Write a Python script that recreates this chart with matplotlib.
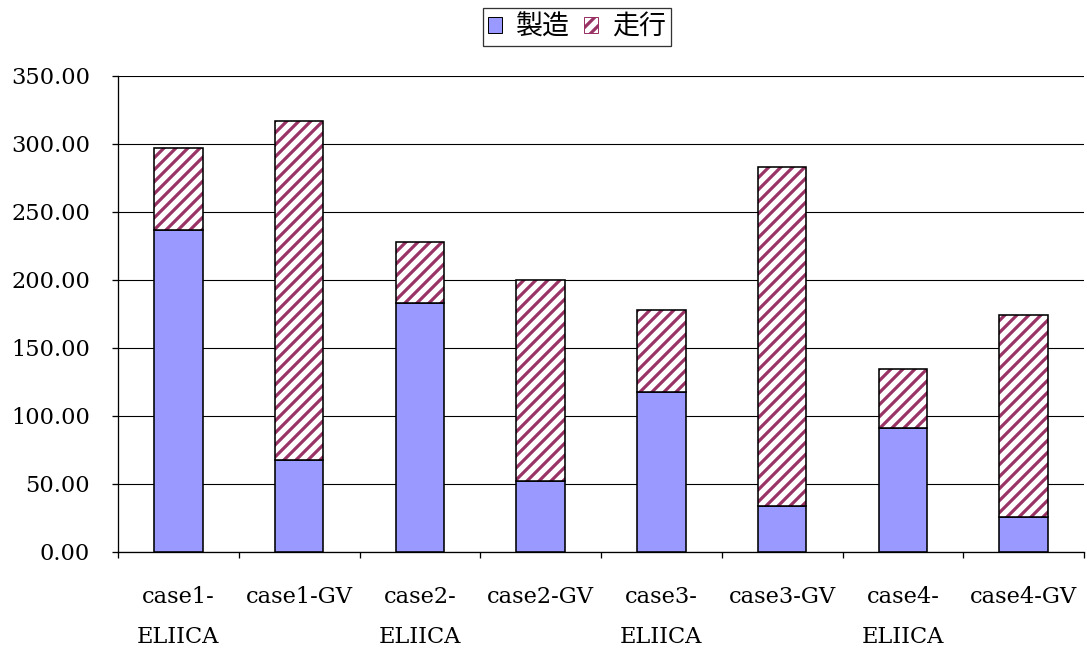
import numpy as np
import matplotlib.pyplot as plt
from matplotlib.patches import Patch

plt.rcParams['hatch.linewidth'] = 3.2

categories = ["case1-\nELIICA", "case1-GV", "case2-\nELIICA", "case2-GV",
              "case3-\nELIICA", "case3-GV", "case4-\nELIICA", "case4-GV"]
manufacture = [236.8, 67.6, 183.0, 52.2, 117.6, 33.8, 91.2, 25.7]
running = [60.2, 249.4, 45.0, 147.8, 60.4, 249.2, 43.4, 148.3]
ytick_vals = [0, 50, 100, 150, 200, 250, 300, 350]

serif = ["DejaVu Serif"]
cjk = ["Noto Sans CJK JP", "DejaVu Sans"]
hatch_col = "#993366"

W, H = 1087, 653
fig = plt.figure(figsize=(W / 72, H / 72), dpi=72)
ax = fig.add_axes([118 / W, 1 - 552 / H, 966 / W, 476 / H])

x = np.arange(len(categories))
ax.bar(x, manufacture, width=0.4, color="#9999ff", edgecolor="black",
       linewidth=1.6, zorder=3)
# hatch takes the edge colour, so draw the stripes first, then the outline
ax.bar(x, running, width=0.4, bottom=manufacture, color="white",
       edgecolor=hatch_col, linewidth=0, hatch="//", zorder=3)
ax.bar(x, running, width=0.4, bottom=manufacture, fill=False,
       edgecolor="black", linewidth=1.6, zorder=4)

ax.set_xlim(-0.5, len(categories) - 0.5)
ax.set_ylim(0, 350)
ax.set_yticks(ytick_vals)
ax.set_yticklabels(["%.2f" % v for v in ytick_vals], family=serif,
                   fontsize=22.5)
ax.yaxis.grid(True, color="black", linewidth=1.1, zorder=0)
ax.tick_params(axis="y", direction="out", length=6, width=1.3, pad=22)

# category boundary ticks, labels centred on categories
ax.set_xticks(np.arange(len(categories) + 1) - 0.5)
ax.set_xticklabels([])
ax.set_xticks(x, minor=True)
ax.set_xticklabels(categories, minor=True, family=serif, fontsize=22.5,
                   linespacing=2.05, va="top")
ax.tick_params(axis="x", which="major", direction="out", length=6, width=1.3)
ax.tick_params(axis="x", which="minor", length=0, pad=34)

for s in ax.spines.values():
    s.set_color("black")
    s.set_linewidth(1.3)
ax.spines["top"].set_visible(False)
ax.spines["right"].set_visible(False)

handles = [Patch(facecolor="#9999ff", edgecolor="black", label="製造"),
           Patch(facecolor="white", edgecolor=hatch_col, hatch="//",
                 label="走行")]
leg = fig.legend(handles=handles, loc="upper center",
                 bbox_to_anchor=(577 / W, 1 - 8 / H), ncol=2,
                 frameon=True, fancybox=False, edgecolor="black",
                 prop={"family": cjk, "size": 27}, handlelength=0.52,
                 handleheight=0.52, handletextpad=0.5, columnspacing=0.55,
                 borderpad=0.2, borderaxespad=0)
leg.get_frame().set_linewidth(1.3)

fig.savefig("out.png", dpi=72)
